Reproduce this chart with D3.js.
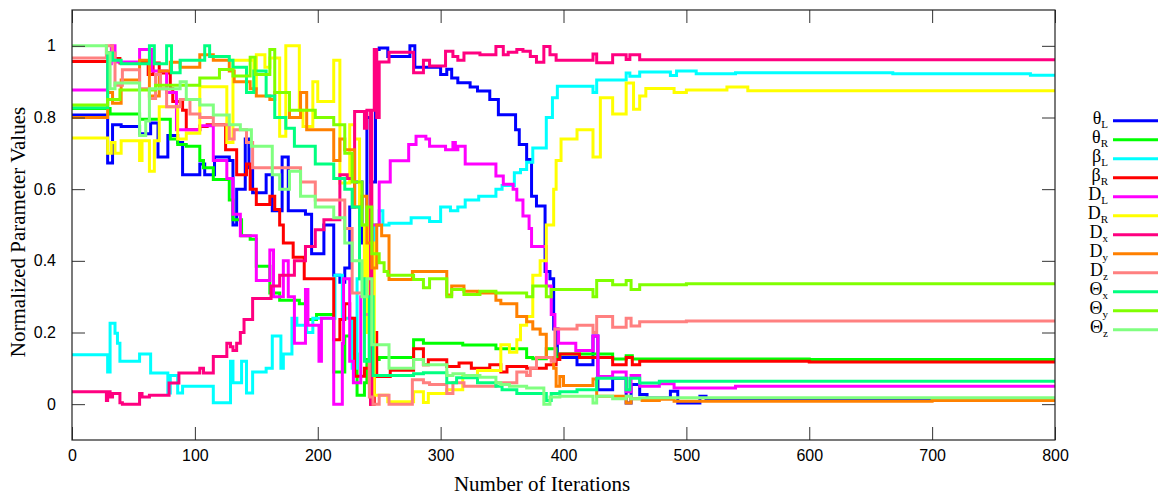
<!DOCTYPE html>
<html lang="en">
<head>
<meta charset="UTF-8">
<title>Normalized Parameter Values</title>
<script src="https://d3js.org/d3.v7.min.js"></script>
<style>
    body { margin: 0; background: #fff; }
    svg { display: block; }
    .tick line { stroke: #333; }
    .tick text { font-family: "Liberation Sans", Arial, sans-serif; font-size: 16px; fill: #000; }
</style>
</head>
<body>
<div id="chart"></div>
<script>
// tick labels
const xTicks = [0, 100, 200, 300, 400, 500, 600, 700, 800];
const yTicks = [0, 0.2, 0.4, 0.6, 0.8, 1];
const yTickLabels = ["0", "0.2", "0.4", "0.6", "0.8", "1"];

// series: [iteration, normalized value], drawn as steps
const thetaL = [[0,0.807],[29,0.673],[33,0.78],[40,0.775],[55,0.755],[64,0.785],[70,0.69],[78,0.75],[86,0.73],[90,0.64],[104,0.67],[108,0.64],[116,0.69],[128,0.68],[131,0.5],[134,0.6],[141,0.74],[144,0.66],[147,0.59],[158,0.64],[163,0.54],[171,0.69],[176,0.54],[190,0.53],[195,0.42],[205,0.5],[213,0.36],[218,0.34],[222,0.38],[226,0.55],[230,0.62],[236,0.45],[240,0.8],[243,0.62],[247,0.99],[250,0.994],[257,0.97],[275,1.0],[279,0.94],[300,0.92],[305,0.935],[309,0.91],[314,0.897],[324,0.885],[330,0.874],[340,0.85],[347,0.808],[361,0.766],[364,0.725],[370,0.683],[374,0.58],[378,0.553],[385,0.37],[389,0.35],[392,0.21],[395,0.13],[411,0.11],[424,0.19],[428,0.04],[440,0.072],[451,0.003],[455,0.055],[462,0.027],[468,0.017],[487,0.036],[493,0.003],[511,0.022],[516,0.01],[800,0.012]];
const thetaR = [[0,0.825],[31,0.81],[55,0.795],[80,0.74],[86,0.725],[93,0.72],[104,0.68],[107,0.66],[115,0.627],[128,0.57],[131,0.515],[138,0.47],[145,0.46],[150,0.385],[161,0.31],[169,0.29],[185,0.28],[191,0.236],[199,0.25],[213,0.09],[222,0.19],[228,0.14],[232,0.025],[238,0.06],[240,0.125],[250,0.13],[278,0.18],[286,0.17],[318,0.165],[345,0.155],[370,0.13],[375,0.127],[386,0.155],[394,0.13],[397,0.14],[440,0.126],[451,0.135],[456,0.126],[600,0.125],[800,0.123]];
const betaL = [[0,0.138],[29,0.09],[31,0.226],[35,0.198],[37,0.17],[39,0.12],[55,0.14],[64,0.087],[78,0.031],[80,0.08],[86,0.031],[90,0.05],[115,0.004],[129,0.12],[131,0.06],[138,0.12],[142,0.031],[147,0.09],[158,0.1],[163,0.19],[170,0.1],[172,0.14],[179,0.24],[183,0.22],[191,0.2],[196,0.24],[214,0.36],[220,0.24],[228,0.1],[232,0.35],[240,0.42],[246,0.5],[250,0.54],[253,0.5],[258,0.505],[276,0.52],[291,0.51],[300,0.55],[308,0.54],[314,0.55],[320,0.57],[331,0.58],[345,0.6],[350,0.61],[360,0.646],[365,0.655],[370,0.675],[375,0.715],[386,0.8],[391,0.855],[395,0.887],[424,0.87],[427,0.905],[451,0.924],[454,0.915],[462,0.927],[487,0.917],[492,0.93],[508,0.922],[540,0.925],[668,0.922],[780,0.918],[800,0.922]];
const betaR = [[0,0.956],[30,0.98],[34,0.965],[39,0.952],[55,0.956],[62,0.92],[66,0.952],[71,0.924],[80,0.88],[82,0.845],[90,0.82],[93,0.766],[104,0.775],[110,0.78],[125,0.71],[134,0.64],[142,0.67],[145,0.6],[150,0.557],[161,0.58],[165,0.543],[169,0.5],[172,0.45],[180,0.41],[189,0.35],[213,0.18],[218,0.236],[222,0.28],[226,0.24],[230,0.078],[238,0.1],[243,0.0],[246,0.2],[248,0.077],[259,0.095],[278,0.155],[286,0.11],[290,0.124],[305,0.105],[315,0.115],[325,0.1],[340,0.11],[349,0.09],[354,0.105],[370,0.1],[386,0.11],[394,0.125],[397,0.14],[413,0.13],[440,0.11],[451,0.13],[456,0.11],[462,0.12],[600,0.118],[800,0.117]];
const dL = [[0,0.877],[29,0.95],[32,1.0],[35,0.955],[55,0.99],[65,0.93],[77,0.87],[85,0.766],[104,0.777],[115,0.68],[126,0.63],[131,0.53],[137,0.47],[150,0.345],[161,0.43],[164,0.3],[172,0.4],[176,0.3],[181,0.17],[190,0.32],[192,0.22],[201,0.12],[203,0.24],[213,0.0],[220,0.17],[221,0.35],[226,0.12],[229,0.06],[235,0.3],[238,0.45],[244,0.5],[250,0.62],[259,0.679],[274,0.725],[280,0.748],[288,0.74],[291,0.72],[304,0.71],[310,0.73],[312,0.71],[314,0.72],[320,0.67],[345,0.637],[351,0.614],[359,0.6],[362,0.57],[367,0.525],[372,0.49],[374,0.44],[386,0.33],[390,0.25],[393,0.21],[396,0.17],[410,0.15],[424,0.19],[428,0.077],[440,0.09],[451,0.035],[455,0.08],[462,0.05],[478,0.057],[490,0.045],[540,0.05],[668,0.05],[800,0.048]];
const dR = [[0,0.743],[29,0.7],[32,0.73],[35,0.7],[40,0.735],[55,0.68],[57,0.735],[63,0.65],[67,0.735],[71,0.83],[86,0.74],[93,0.756],[104,0.886],[126,0.73],[131,0.96],[148,0.88],[150,0.975],[157,0.94],[161,0.966],[169,0.748],[174,1.0],[185,0.82],[188,0.775],[196,0.9],[200,0.845],[213,0.96],[218,0.617],[226,0.78],[230,0.74],[234,0.5],[238,0.2],[240,0.55],[242,0.05],[244,0.45],[246,0.025],[257,0.007],[278,0.035],[286,0.005],[290,0.03],[305,0.04],[318,0.08],[330,0.094],[349,0.166],[356,0.145],[362,0.18],[365,0.22],[370,0.245],[375,0.36],[381,0.4],[386,0.5],[392,0.6],[394,0.68],[398,0.74],[411,0.766],[424,0.69],[430,0.855],[440,0.81],[451,0.896],[457,0.823],[462,0.86],[467,0.881],[490,0.87],[500,0.877],[533,0.885],[550,0.875],[800,0.877]];
const dX = [[0,0.035],[28,0.01],[29,0.035],[31,0.02],[33,0.03],[39,0.004],[41,0.0],[55,0.03],[57,0.02],[63,0.025],[79,0.059],[87,0.087],[104,0.1],[107,0.087],[115,0.133],[126,0.17],[129,0.16],[131,0.15],[134,0.17],[137,0.2],[140,0.236],[147,0.295],[162,0.33],[169,0.36],[181,0.4],[190,0.44],[198,0.487],[205,0.515],[218,0.64],[224,0.63],[230,0.817],[238,0.77],[240,0.82],[243,0.0],[244,0.82],[246,0.99],[248,0.8],[250,0.955],[258,0.982],[278,0.925],[286,0.96],[291,0.944],[304,0.985],[310,0.97],[314,0.96],[319,0.98],[332,0.975],[345,0.998],[351,0.975],[355,0.982],[362,0.99],[367,0.985],[373,0.97],[378,0.954],[384,0.998],[389,0.975],[394,0.96],[424,0.977],[427,0.953],[440,0.975],[451,0.962],[454,0.975],[462,0.961],[800,0.962]];
const dY = [[0,0.8],[29,0.87],[33,0.84],[40,0.905],[55,0.96],[63,0.86],[71,0.93],[80,0.954],[88,0.94],[104,0.975],[115,0.96],[128,0.93],[132,0.9],[145,0.88],[150,0.86],[161,0.85],[165,0.87],[177,0.8],[186,0.87],[191,0.766],[213,0.68],[218,0.74],[222,0.71],[230,0.55],[236,0.58],[240,0.45],[244,0.38],[248,0.5],[252,0.47],[258,0.348],[277,0.37],[305,0.305],[309,0.33],[319,0.315],[330,0.31],[345,0.29],[349,0.28],[362,0.245],[370,0.23],[375,0.21],[381,0.195],[386,0.13],[392,0.1],[394,0.05],[397,0.077],[400,0.052],[424,0.07],[427,0.022],[451,0.003],[455,0.015],[464,0.01],[478,0.014],[490,0.008],[700,0.01],[800,0.012]];
const dZ = [[0,0.966],[28,1.0],[33,0.98],[35,0.89],[41,0.933],[55,0.88],[63,0.853],[68,0.92],[72,0.88],[77,0.83],[88,0.85],[96,0.81],[104,0.8],[115,0.78],[128,0.74],[132,0.766],[142,0.73],[147,0.66],[177,0.66],[186,0.62],[198,0.57],[222,0.49],[228,0.31],[238,0.25],[242,0.02],[245,0.0],[250,0.025],[258,0.0],[277,0.068],[286,0.06],[291,0.055],[305,0.03],[310,0.06],[319,0.05],[345,0.06],[356,0.06],[362,0.09],[370,0.08],[373,0.1],[378,0.13],[390,0.12],[393,0.21],[411,0.22],[424,0.2],[427,0.245],[440,0.215],[451,0.24],[455,0.218],[462,0.23],[500,0.232],[800,0.236]];
const bigThetaX = [[0,0.827],[29,0.98],[33,0.96],[40,0.95],[63,1.0],[67,0.95],[77,1.0],[81,0.925],[88,0.96],[108,1.0],[112,0.97],[128,0.96],[131,0.94],[142,0.87],[148,0.93],[158,0.86],[165,0.8],[174,0.77],[181,0.72],[198,0.67],[213,0.63],[222,0.6],[228,0.55],[234,0.35],[238,0.12],[242,0.3],[245,0.08],[258,0.08],[278,0.085],[286,0.088],[305,0.06],[313,0.074],[330,0.06],[345,0.05],[350,0.04],[362,0.03],[386,0.01],[390,0.03],[397,0.035],[411,0.04],[427,0.072],[451,0.04],[454,0.072],[462,0.059],[478,0.064],[800,0.062]];
const bigThetaY = [[0,0.835],[29,0.85],[39,0.877],[68,0.89],[104,0.91],[120,0.934],[131,0.916],[145,0.968],[149,0.92],[161,0.99],[165,0.87],[177,0.82],[198,0.8],[213,0.78],[222,0.7],[228,0.62],[236,0.5],[240,0.55],[244,0.42],[250,0.395],[254,0.37],[257,0.36],[278,0.348],[286,0.325],[291,0.35],[305,0.3],[309,0.32],[319,0.306],[332,0.315],[345,0.31],[370,0.3],[375,0.33],[386,0.3],[390,0.32],[397,0.32],[424,0.3],[427,0.345],[440,0.333],[451,0.345],[455,0.32],[462,0.333],[500,0.336],[800,0.336]];
const bigThetaZ = [[0,1.0],[28,0.98],[31,0.88],[35,0.896],[55,0.75],[60,0.79],[63,0.88],[88,0.9],[93,0.85],[104,0.835],[115,0.807],[128,0.78],[137,0.766],[146,0.72],[163,0.64],[169,0.6],[177,0.65],[186,0.58],[198,0.55],[213,0.52],[222,0.45],[228,0.4],[236,0.3],[240,0.35],[244,0.166],[250,0.166],[258,0.1],[278,0.125],[286,0.11],[305,0.08],[310,0.085],[319,0.08],[332,0.075],[345,0.06],[349,0.055],[356,0.05],[370,0.045],[384,0.0],[389,0.02],[397,0.022],[424,0.003],[427,0.022],[440,0.015],[451,0.022],[455,0.015],[462,0.018],[800,0.018]];

const series = [
    {sym: "θ", sub: "L", color: "#0000ff", data: thetaL},
    {sym: "θ", sub: "R", color: "#00ff00", data: thetaR},
    {sym: "β", sub: "L", color: "#00ffff", data: betaL},
    {sym: "β", sub: "R", color: "#ff0000", data: betaR},
    {sym: "D", sub: "L", color: "#ff00ff", data: dL},
    {sym: "D", sub: "R", color: "#ffff00", data: dR},
    {sym: "D", sub: "x", color: "#ff0080", data: dX},
    {sym: "D", sub: "y", color: "#ff8000", data: dY},
    {sym: "D", sub: "z", color: "#ff8080", data: dZ},
    {sym: "Θ", sub: "x", color: "#00ff80", data: bigThetaX},
    {sym: "Θ", sub: "y", color: "#80ff00", data: bigThetaY},
    {sym: "Θ", sub: "z", color: "#80ff80", data: bigThetaZ}
];

const W = 1158, H = 495;
const plot = {left: 72, right: 1055, top: 10, bottom: 440};
const TICK = 13;

const svg = d3.select("#chart").append("svg")
    .attr("width", W)
    .attr("height", H);

svg.append("rect").attr("width", W).attr("height", H).attr("fill", "#fff");

const x = d3.scaleLinear().domain([0, 800]).range([plot.left, plot.right]);
const y = d3.scaleLinear().domain([-0.1, 1.1]).range([plot.bottom, plot.top]);

// clip lines to the frame
svg.append("clipPath").attr("id", "clip")
    .append("rect")
    .attr("x", plot.left).attr("y", plot.top)
    .attr("width", plot.right - plot.left).attr("height", plot.bottom - plot.top);

const line = d3.line()
    .x(d => x(d[0]))
    .y(d => y(d[1]))
    .curve(d3.curveStepAfter);

const lines = svg.append("g").attr("clip-path", "url(#clip)");
series.forEach(s => {
    lines.append("path")
        .datum(s.data)
        .attr("fill", "none")
        .attr("stroke", s.color)
        .attr("stroke-width", 3)
        .attr("stroke-linejoin", "miter")
        .attr("d", line);
});

// axes, ticks pointing inward on all four sides
svg.append("g")
    .attr("transform", `translate(0,${plot.bottom})`)
    .call(d3.axisBottom(x).tickValues(xTicks).tickSizeInner(-TICK).tickSizeOuter(0).tickPadding(10))
    .call(g => g.select(".domain").remove());

svg.append("g")
    .attr("transform", `translate(0,${plot.top})`)
    .call(d3.axisTop(x).tickValues(xTicks).tickSizeInner(-TICK).tickSizeOuter(0).tickFormat(""))
    .call(g => g.select(".domain").remove());

svg.append("g")
    .attr("transform", `translate(${plot.left},0)`)
    .call(d3.axisLeft(y).tickValues(yTicks).tickSizeInner(-TICK).tickSizeOuter(0).tickPadding(16)
        .tickFormat((d, i) => yTickLabels[i]))
    .call(g => g.select(".domain").remove());

svg.append("g")
    .attr("transform", `translate(${plot.right},0)`)
    .call(d3.axisRight(y).tickValues(yTicks).tickSizeInner(-TICK).tickSizeOuter(0).tickFormat(""))
    .call(g => g.select(".domain").remove());

// frame
svg.append("rect")
    .attr("x", plot.left).attr("y", plot.top)
    .attr("width", plot.right - plot.left).attr("height", plot.bottom - plot.top)
    .attr("fill", "none")
    .attr("stroke", "#222")
    .attr("stroke-width", 1.2);

// axis titles
svg.append("text")
    .attr("x", 542).attr("y", 491)
    .attr("text-anchor", "middle")
    .style("font-family", "'Liberation Serif', 'Times New Roman', serif")
    .style("font-size", "21px")
    .text("Number of Iterations");

svg.append("text")
    .attr("transform", "translate(25,232) rotate(-90)")
    .attr("text-anchor", "middle")
    .style("font-family", "'Liberation Serif', 'Times New Roman', serif")
    .style("font-size", "21px")
    .text("Normalized Parameter Values");

// legend
const legend = svg.append("g")
    .style("font-family", "'Liberation Serif', 'Times New Roman', serif");

series.forEach((s, i) => {
    const ly = 120.7 + i * 19.0;
    legend.append("line")
        .attr("x1", 1113).attr("x2", 1158)
        .attr("y1", ly).attr("y2", ly)
        .attr("stroke", s.color)
        .attr("stroke-width", 3);
    const t = legend.append("text")
        .attr("x", 1108).attr("y", ly + 3)
        .attr("text-anchor", "end")
        .style("font-size", "18px");
    t.append("tspan").text(s.sym);
    t.append("tspan").attr("dy", 4).style("font-size", "11px").text(s.sub);
});
</script>
</body>
</html>
